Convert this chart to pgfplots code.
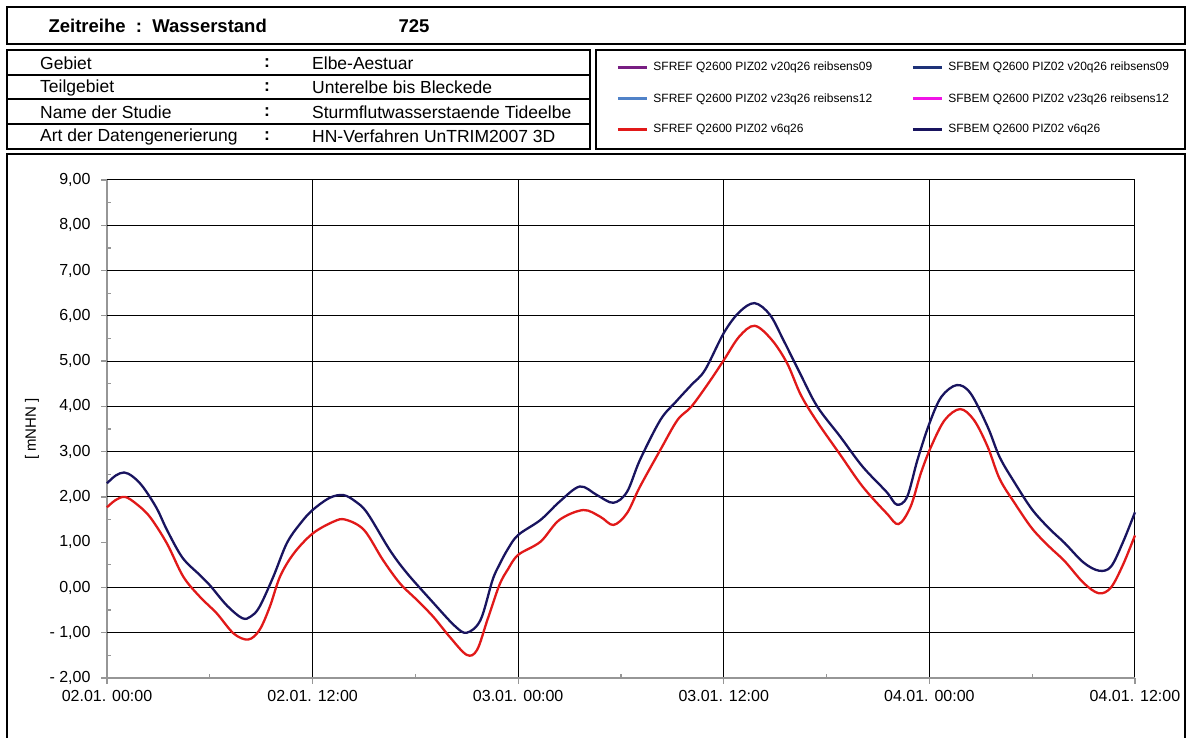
\documentclass[border=0pt]{standalone}
\usepackage{fontspec}
\setmainfont{Liberation Sans}
\usepackage{pgfplots}
\pgfplotsset{compat=1.18}

\definecolor{refred}{RGB}{225,25,25}
\definecolor{bemnavy}{RGB}{25,20,95}
\definecolor{refpurple}{RGB}{120,30,130}
\definecolor{bemblue}{RGB}{30,50,120}
\definecolor{reflight}{RGB}{80,130,200}
\definecolor{bemmag}{RGB}{240,20,230}
\definecolor{axgray}{RGB}{150,150,150}

\begin{document}
\begin{tikzpicture}[x=1pt,y=1pt]
\path[use as bounding box] (0,0) rectangle (1187,737);

% header box
\draw[line width=1.5pt] (7,693) rectangle (1185,730);
\node[anchor=base west,font=\fontsize{18.5}{20}\selectfont\bfseries] at (45,704) {Zeitreihe~~:~~Wasserstand};
\node[anchor=base west,font=\fontsize{18.5}{20}\selectfont\bfseries] at (395,704) {725};

% info table
\draw[line width=1.5pt] (7,588) rectangle (590,687);
\foreach \yy in {662,638,613} \draw[line width=1.2pt] (7,\yy) -- (590,\yy);
\begin{scope}[every node/.style={anchor=west,font=\fontsize{17.5}{19}\selectfont,inner sep=0pt}]
\node at (40,674) {Gebiet};
\node at (40,649.5) {Teilgebiet};
\node at (40,625) {Name der Studie};
\node at (40,600.5) {Art der Datengenerierung};
\foreach \yy in {674,649.5,625,600.5} \node at (264,\yy) {\textbf{:}};
\node at (312,674) {Elbe-Aestuar};
\node at (312,649.5) {Unterelbe bis Bleckede};
\node at (312,625) {Sturmflutwasserstaende Tideelbe};
\node at (312,600.5) {HN-Verfahren UnTRIM2007 3D};
\end{scope}

% legend box and chart box
\draw[line width=1.5pt] (596,588) rectangle (1185,687);
\draw[line width=1.5pt] (7,-10) rectangle (1185,583);

\begin{axis}[
  at={(107pt,59pt)}, anchor=south west,
  scale only axis, width=1028pt, height=498pt,
  xmin=0, xmax=60, ymin=-2, ymax=9,
  axis lines=left,
  axis line style={-, axgray, line width=2pt},
  xtick={0,12,24,36,48,60},
  xticklabels={02.01. 00:00,02.01. 12:00,03.01. 00:00,03.01. 12:00,04.01. 00:00,04.01. 12:00},
  minor x tick num=1,
  ytick={-2,-1,...,9},
  yticklabels={{- 2,00},{- 1,00},{0,00},{1,00},{2,00},{3,00},{4,00},{5,00},{6,00},{7,00},{8,00},{9,00}},
  minor y tick num=1,
  tick align=outside,
  major tick length=6pt, minor tick length=4pt,
  tick style={axgray, line width=1.2pt},
  minor y tick style={xshift=4pt},
  minor x tick style={yshift=4pt},
  xmajorgrids,
  major grid style={black, line width=1pt},
  extra y ticks={-1,0,2,3,4,5,6,7,8,9},
  extra y tick labels={},
  extra y tick style={grid=major, major tick length=0pt},
  ticklabel style={font=\fontsize{16}{18}\selectfont},
  xticklabel style={yshift=-3pt},
  yticklabel style={xshift=-7pt},
  ylabel={\relax[ mNHN ]},
  ylabel style={at={(rel axis cs:-0.073,0.5)}, anchor=center, font=\fontsize{15}{17}\selectfont},
  clip=false,
  legend columns=2,
  legend cell align=left,
  legend style={at={(rel axis cs:0.4925,1.245)}, anchor=north west, draw=none, fill=none,
    font=\fontsize{12}{13}\selectfont, row sep=17pt,
    nodes={inner xsep=5pt},
    /tikz/every even column/.append style={column sep=34pt}},
  legend image code/.code={\draw[#1, line width=3pt] (0pt,0pt) -- (29pt,0pt);},
]
\addlegendimage{refpurple}
\addlegendentry{SFREF Q2600 PIZ02 v20q26 reibsens09}
\addlegendimage{bemblue}
\addlegendentry{SFBEM Q2600 PIZ02 v20q26 reibsens09}
\addlegendimage{reflight}
\addlegendentry{SFREF Q2600 PIZ02 v23q26 reibsens12}
\addlegendimage{bemmag}
\addlegendentry{SFBEM Q2600 PIZ02 v23q26 reibsens12}

\addplot[refred, line width=2.3pt, smooth, tension=0.55] coordinates {
(0,1.77) (0.5,1.93) (1.05,2.0) (1.7,1.85) (2.5,1.56) (3.5,0.97) (4.45,0.24)
(5.43,-0.21) (6.4,-0.57) (7.4,-1.02) (8.25,-1.15) (8.9,-0.94) (9.5,-0.43)
(10.1,0.24) (10.9,0.75) (12.0,1.19) (13.2,1.45) (13.9,1.50) (15.0,1.27)
(16.1,0.61) (17.1,0.09) (18.1,-0.28) (19.05,-0.65) (20.0,-1.09) (21.0,-1.49)
(21.6,-1.38) (22.2,-0.72) (22.9,0.05) (23.4,0.40) (24.0,0.72) (25.3,1.01)
(26.4,1.49) (27.8,1.71) (28.8,1.56) (29.56,1.38) (30.35,1.64) (31.1,2.22)
(32.3,3.04) (33.3,3.70) (34.1,3.99) (35.1,4.51) (36.0,5.02) (36.9,5.54)
(37.8,5.78) (38.8,5.47) (39.7,4.95) (40.5,4.25) (41.45,3.66) (42.8,2.93)
(44.1,2.23) (45.5,1.64) (46.2,1.40) (46.9,1.78) (47.5,2.52) (48.1,3.11)
(48.9,3.70) (49.8,3.94) (50.6,3.70) (51.4,3.11) (52.1,2.40) (53.0,1.85)
(54.0,1.30) (55.0,0.90) (55.9,0.58) (57.0,0.10) (57.9,-0.13) (58.6,0.0)
(59.3,0.5) (60,1.15)
};
\addlegendentry{SFREF Q2600 PIZ02 v6q26}

\addplot[bemnavy, line width=2.3pt, smooth, tension=0.55] coordinates {
(0,2.30) (0.5,2.47) (1.0,2.54) (1.5,2.45) (2.1,2.22) (2.9,1.75) (3.5,1.27)
(4.4,0.66) (5.4,0.28) (6.0,0.05) (7.0,-0.40) (7.9,-0.68) (8.4,-0.64)
(8.9,-0.43) (9.7,0.23) (10.5,0.98) (11.3,1.42) (12.0,1.71) (13.0,1.98)
(13.8,2.04) (14.5,1.90) (15.2,1.64) (16.5,0.83) (17.5,0.32) (19.0,-0.32)
(20.3,-0.85) (21.0,-1.0) (21.8,-0.72) (22.5,0.16) (22.9,0.50) (23.4,0.85)
(24.0,1.16) (25.3,1.49) (26.4,1.89) (27.6,2.23) (28.6,2.04) (29.55,1.87)
(30.35,2.11) (31.1,2.81) (32.3,3.70) (33.2,4.10) (34.1,4.47) (34.9,4.80)
(36.0,5.62) (36.9,6.08) (37.8,6.28) (38.7,6.02) (39.5,5.45) (40.45,4.73)
(41.45,4.0) (42.8,3.33) (44.1,2.67) (45.5,2.11) (46.1,1.83) (46.7,2.0)
(47.3,2.81) (48.0,3.62) (48.7,4.21) (49.6,4.47) (50.4,4.29) (51.4,3.55)
(52.1,2.88) (53.0,2.30) (54.0,1.72) (55.0,1.30) (55.9,0.98) (57.0,0.55)
(57.9,0.37) (58.6,0.46) (59.3,1.0) (60,1.66)
};
\addlegendentry{SFBEM Q2600 PIZ02 v6q26}
\end{axis}
\end{tikzpicture}
\end{document}
